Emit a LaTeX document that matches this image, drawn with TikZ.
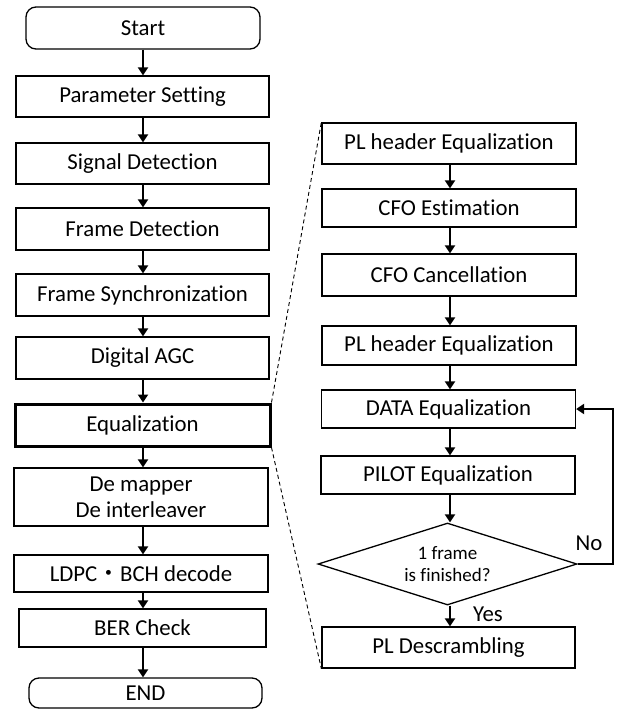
\documentclass[tikz,border=0pt]{standalone}
\usepackage{fontspec}
\setmainfont{Carlito}[Ligatures=NoCommon]
\newfontfamily\cjk{Noto Sans CJK JP}
\usetikzlibrary{arrows.meta,shapes.geometric}

\tikzset{
  box/.style={draw, line width=1.3pt, inner sep=0pt, align=center,
    minimum width=#1, minimum height=41pt,
    font=\fontsize{22.8}{26}\selectfont},
  box/.default=254pt,
  term/.style={box=#1, rounded corners=10pt},
  flow/.style={line width=2.8pt, -{Triangle[length=8pt,width=10pt]}},
  zoomline/.style={line width=0.9pt, dash pattern=on 4pt off 3pt},
  lbl/.style={inner sep=0pt, font=\fontsize{22.8}{26}\selectfont}
}

\begin{document}
\begin{tikzpicture}[x=1pt,y=-1pt]
\useasboundingbox (0,0) rectangle (619,718);

% main receiver chain
\node[term=234pt, minimum height=42pt] (start) at (143,28) {Start};
\node[box=253pt] (param) at (142.5,96.5) {Parameter Setting};
\node[box=253pt] (sig) at (142.5,163.5) {Signal Detection};
\node[box=253pt, minimum height=42pt] (fdet) at (142.5,229) {Frame Detection};
\node[box=253pt, minimum height=42pt] (fsync) at (142.5,295) {Frame Synchronization};
\node[box=253pt, minimum height=42pt] (agc) at (142.5,358) {Digital AGC};
\node[box=255pt, minimum height=42pt, line width=3pt] (eq) at (142.5,425) {Equalization};
\node[box=254pt, minimum height=58pt] (demap) at (141,497) {De mapper\\De interleaver};
\node[box=254pt, minimum height=37pt] (ldpc) at (141,573.5) {LDPC{\cjk ・}BCH decode};
\node[box=247pt, minimum height=38pt] (ber) at (142.5,628) {BER Check};
\node[term=233pt, minimum height=30pt] (end) at (145.5,693) {END};

\foreach \a/\b in {start/param, param/sig, sig/fdet, fdet/fsync, fsync/agc,
                   agc/eq, eq/demap, demap/ldpc, ldpc/ber, ber/end}
  \draw[flow] (143,0 |- \a.south) -- (143,0 |- \b.north);

% equalization detail
\node[box=254pt] (plh1) at (449,143.5) {PL header Equalization};
\node[box=254pt, minimum height=38pt] (cfoe) at (449,208) {CFO Estimation};
\node[box=254pt, minimum height=42pt] (cfoc) at (449,275) {CFO Cancellation};
\node[box=254pt, minimum height=39pt] (plh2) at (449,345.5) {PL header Equalization};
\node[box=254pt, minimum height=38pt] (data) at (448.5,409) {DATA Equalization};
\node[box=254pt, minimum height=38pt] (pilot) at (448,475) {PILOT Equalization};
\node[draw, line width=1.3pt, shape=diamond, aspect=3.16, inner sep=0pt,
      minimum width=259pt, minimum height=82pt, align=center,
      font=\fontsize{19}{22}\selectfont] (dec) at (447.5,564) {1 frame\\is finished?};
\node[box=253pt] (pld) at (448.5,647.5) {PL Descrambling};

\foreach \a/\b in {plh1/cfoe, cfoe/cfoc, cfoc/plh2, plh2/data, data/pilot, pilot/dec, dec/pld}
  \draw[flow] (450,0 |- \a.south) -- (450,0 |- \b.north);

% loop back for the remaining symbols of the frame
\coordinate (loop) at (613,409);
\draw[flow] (dec.east) -| (loop) -- (data.east);
\node[lbl] (no) at (589,543) {No};
\node[lbl] (yes) at (488,614) {Yes};

% zoom-out guides
\draw[zoomline] (eq.north east) -- (plh1.north west);
\draw[zoomline] (eq.south east) -- (pld.south west);
\end{tikzpicture}
\end{document}
